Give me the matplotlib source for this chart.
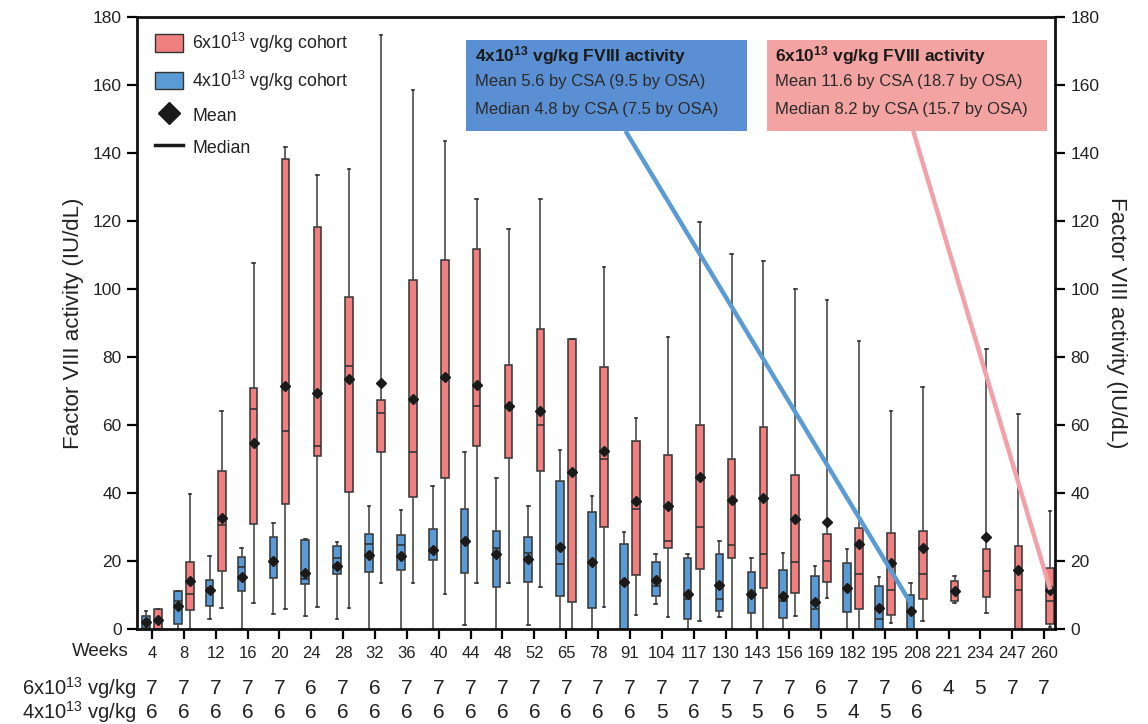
import matplotlib
matplotlib.use("Agg")
import matplotlib.pyplot as plt
from matplotlib.patches import Patch, Rectangle
from matplotlib.lines import Line2D
import matplotlib.transforms as mtransforms

plt.rcParams['font.family'] = ['Liberation Sans', 'DejaVu Sans']
plt.rcParams['mathtext.fontset'] = 'custom'
plt.rcParams['mathtext.rm'] = 'Liberation Sans'
plt.rcParams['mathtext.bf'] = 'Liberation Sans:bold'
plt.rcParams['mathtext.default'] = 'regular'

weeks = [4, 8, 12, 16, 20, 24, 28, 32, 36, 40, 44, 48, 52, 65, 78, 91, 104,
         117, 130, 143, 156, 169, 182, 195, 208, 221, 234, 247, 260]
n_6e13 = [7, 7, 7, 7, 7, 6, 7, 6, 7, 7, 7, 7, 7, 7, 7, 7, 7, 7, 7, 7, 7, 6,
          7, 7, 6, 4, 5, 7, 7]
n_4e13 = [6, 6, 6, 6, 6, 6, 6, 6, 6, 6, 6, 6, 6, 6, 6, 6, 5, 6, 5, 5, 6, 5,
          4, 5, 6]

# 6x10^13 cohort: whisker low, Q1, median, Q3, whisker high, mean
hi_low = [0, 0, 6.1, 7.6, 5.9, 6.6, 6.3, 13.4, 13.6, 10.2, 13.5, 13.4, 12.3, 0, 6.4,
          4.2, 3.4, 2.4, 0, 0, 3.7, 9.1, 0, 1.8, 2.5, 7.7, 4.6, 0, 0.5]
hi_q1 = [0, 5.7, 17.0, 30.9, 36.7, 51.0, 40.4, 52.0, 38.9, 44.4, 53.7, 50.3, 46.5, 7.8,
         30.0, 16.0, 23.8, 17.6, 20.9, 12.1, 10.7, 13.7, 5.8, 4.2, 8.9, 8.1, 9.3, 0, 1.5]
hi_med = [2.5, 10.2, 30.7, 64.8, 58.2, 53.7, 77.4, 63.6, 52.0, 73.5, 65.5, 65.0, 60.0,
          46.0, 49.9, 35.3, 25.8, 30.0, 24.6, 22.2, 19.6, 20.0, 16.2, 11.6, 16.2, 11.2,
          17.0, 11.5, 8.1]
hi_q3 = [5.8, 19.6, 46.4, 70.9, 138.1, 118.1, 97.7, 67.4, 102.6, 108.5, 111.8, 77.6,
         88.3, 85.4, 77.0, 55.4, 51.2, 60.0, 50.0, 59.5, 45.4, 27.9, 29.7, 28.2, 28.9,
         14.1, 23.4, 24.5, 18.0]
hi_high = [5.8, 39.7, 64.0, 107.6, 141.7, 133.5, 135.4, 174.7, 158.5, 143.5, 126.6,
           117.6, 126.6, 85.4, 106.4, 62.1, 86.0, 119.6, 110.3, 108.2, 100.1, 96.9,
           84.8, 64.2, 71.1, 15.7, 82.4, 63.1, 34.8]
hi_mean = [2.6, 14.1, 32.6, 54.6, 71.5, 69.5, 73.4, 72.4, 67.6, 74.2, 71.7, 65.6, 64.0,
           46.2, 52.5, 37.6, 36.1, 44.6, 37.9, 38.4, 32.4, 31.4, 24.9, 19.3, 23.9, 11.2,
           27.2, 17.5, 11.6]

# 4x10^13 cohort (weeks 4..208)
lo_low = [0, 0, 2.9, 0, 4.4, 3.8, 2.9, 0, 0, 0, 1.2, 0, 1.2, 0, 0, 0, 7.5, 0, 3.4, 0,
          0, 0, 0, 0, 0]
lo_q1 = [0.3, 1.6, 6.8, 11.1, 15.0, 13.1, 16.2, 16.7, 17.3, 20.4, 16.5, 12.5, 13.7,
         9.6, 6.2, 0, 9.8, 2.8, 5.4, 4.7, 3.2, 0, 5.0, 0, 0]
lo_med = [2.0, 8.1, 12.0, 18.2, 20.5, 14.8, 20.9, 24.9, 24.6, 23.3, 26.0, 23.8, 22.5,
          19.2, 19.5, 13.5, 12.7, 8.7, 8.7, 10.0, 8.3, 5.8, 12.0, 3.0, 4.9]
lo_q3 = [3.7, 11.1, 14.5, 21.2, 27.0, 26.2, 24.3, 27.8, 27.6, 29.3, 35.3, 28.7, 27.2,
         43.6, 34.5, 25.0, 19.6, 20.8, 22.0, 16.7, 17.5, 15.7, 19.3, 12.7, 10.0]
lo_high = [5.4, 11.1, 21.6, 23.7, 31.2, 26.6, 25.7, 36.2, 35.1, 42.2, 52.0, 44.3, 36.2,
           52.6, 39.0, 28.6, 22.1, 22.0, 26.0, 20.8, 22.3, 18.6, 23.5, 15.2, 13.4]
lo_mean = [2.0, 6.8, 11.6, 15.2, 20.1, 16.4, 18.4, 21.8, 21.5, 23.2, 26.0, 22.2, 20.6,
           24.0, 19.7, 13.8, 14.4, 10.4, 13.0, 10.4, 9.7, 7.9, 12.2, 6.1, 5.2]

RED = '#F08080'
BLUE = '#5B9BD5'
EDGE = '#333333'
TXT = '#222222'
OFF = 0.19
W = 0.24


def stats(low, q1, med, q3, high, mean):
    return [dict(whislo=a, q1=b, med=c, q3=d, whishi=e, mean=f, fliers=[])
            for a, b, c, d, e, f in zip(low, q1, med, q3, high, mean)]


fig = plt.figure(figsize=(11.48, 7.24), dpi=100)
ax = fig.add_axes([137 / 1148, 1 - 629 / 724, (1055 - 137) / 1148, (629 - 17) / 724])

common = dict(widths=W, patch_artist=True, showmeans=True, showfliers=False,
              whiskerprops=dict(color='#4a4a4a', lw=1.2),
              capprops=dict(color='#333333', lw=1.2),
              medianprops=dict(color='#2a2a2a', lw=1.1),
              meanprops=dict(marker='D', markerfacecolor='#1a1a1a',
                             markeredgecolor='#1a1a1a', markersize=5.5),
              manage_ticks=False)

pos_hi = [i + OFF for i in range(len(weeks))]
pos_lo = [i - OFF for i in range(len(n_4e13))]

b1 = ax.bxp(stats(lo_low, lo_q1, lo_med, lo_q3, lo_high, lo_mean), positions=pos_lo,
            boxprops=dict(facecolor=BLUE, edgecolor=EDGE, lw=1.1), **common)
b2 = ax.bxp(stats(hi_low, hi_q1, hi_med, hi_q3, hi_high, hi_mean), positions=pos_hi,
            boxprops=dict(facecolor=RED, edgecolor=EDGE, lw=1.1), **common)
for c in b1['caps'] + b2['caps']:
    x = c.get_xdata()
    m = (x[0] + x[1]) / 2
    c.set_xdata([m - 0.04, m + 0.04])

ax.set_xlim(-0.47, 28.34)
ax.set_ylim(0, 180)
ax.set_yticks(range(0, 181, 20))
ax.set_xticks(range(len(weeks)))
ax.set_xticklabels([str(w) for w in weeks], fontsize=12, color=TXT)
ax.tick_params(axis='x', length=7, width=1.6, pad=5)
ax.tick_params(axis='y', length=7, width=1.6, labelsize=12.5, labelcolor=TXT, pad=4)
for s in ax.spines.values():
    s.set_linewidth(2)
    s.set_color('#111111')
ax.set_ylabel('Factor VIII activity (IU/dL)', fontsize=16, color=TXT, labelpad=6)

ax2 = ax.twinx()
ax2.set_ylim(0, 180)
ax2.set_yticks(range(0, 181, 20))
ax2.tick_params(axis='y', length=7, width=1.6, labelsize=12.5, labelcolor=TXT, pad=4)
ax2.set_ylabel('Factor VIII activity (IU/dL)', fontsize=16, color=TXT,
               rotation=270, labelpad=20)
for s in ax2.spines.values():
    s.set_visible(False)

# legend
handles = [Patch(facecolor=RED, edgecolor=EDGE, lw=1.0),
           Patch(facecolor=BLUE, edgecolor=EDGE, lw=1.0),
           Line2D([], [], ls='none', marker='D', color='#1a1a1a', markersize=11),
           Line2D([], [], color='#1a1a1a', lw=2.5)]
labels = ['6x10$^{13}$ vg/kg cohort', '4x10$^{13}$ vg/kg cohort', 'Mean', 'Median']
ax.legend(handles, labels, loc='upper left', bbox_to_anchor=(0.002, 1.003),
          frameon=False, fontsize=12.8, handlelength=1.6, handleheight=1.15,
          labelspacing=0.74, handletextpad=0.5, labelcolor=TXT)

# annotation boxes
BOX_BLUE = '#5A90D3'
BOX_PINK = '#F4A3A3'
ax.add_patch(Rectangle((9.87, 146.5), 18.68 - 9.87, 173.3 - 146.5, facecolor=BOX_BLUE,
                       edgecolor='none', zorder=5))
ax.add_patch(Rectangle((19.31, 146.5), 28.09 - 19.31, 173.3 - 146.5, facecolor=BOX_PINK,
                       edgecolor='none', zorder=5))
ax.text(10.15, 168.8, '4x10$^{13}$ vg/kg FVIII activity', fontsize=12.5,
        fontweight='bold', color='#1a1a1a', va='center', zorder=6)
ax.text(10.15, 161.0, 'Mean 5.6 by CSA (9.5 by OSA)', fontsize=12, color='#2a2a2a',
        va='center', zorder=6)
ax.text(10.15, 152.8, 'Median 4.8 by CSA (7.5 by OSA)', fontsize=12, color='#2a2a2a',
        va='center', zorder=6)
ax.text(19.55, 168.8, '6x10$^{13}$ vg/kg FVIII activity', fontsize=12.5,
        fontweight='bold', color='#1a1a1a', va='center', zorder=6)
ax.text(19.55, 161.0, 'Mean 11.6 by CSA (18.7 by OSA)', fontsize=12, color='#2a2a2a',
        va='center', zorder=6)
ax.text(19.55, 152.8, 'Median 8.2 by CSA (15.7 by OSA)', fontsize=12, color='#2a2a2a',
        va='center', zorder=6)

# connector lines
ib = len(n_4e13) - 1
ax.plot([14.86, pos_lo[ib]], [146.5, (lo_mean[ib] + lo_q3[ib]) / 2], color='#5B9BD5',
        lw=3.2, zorder=4, solid_capstyle='butt')
ir = len(weeks) - 1
ax.plot([23.89, pos_hi[ir]], [146.5, hi_mean[ir]], color='#F4A0A8', lw=3.2, zorder=4,
        solid_capstyle='butt')

# bottom rows
trans = mtransforms.blended_transform_factory(ax.transData, fig.transFigure)
y_w = 1 - 652 / 724
y_6 = 1 - 688 / 724
y_4 = 1 - 712 / 724
fig.text(129 / 1148, y_w, 'Weeks', fontsize=13.5, ha='right', va='center', color=TXT)
fig.text(22 / 1148, y_6, '6x10$^{13}$ vg/kg', fontsize=14.5, ha='left', va='center',
         color=TXT)
fig.text(22 / 1148, y_4, '4x10$^{13}$ vg/kg', fontsize=14.5, ha='left', va='center',
         color=TXT)
for i, n in enumerate(n_6e13):
    ax.text(i, y_6, str(n), transform=trans, fontsize=15, ha='center', va='center',
            color=TXT, clip_on=False)
for i, n in enumerate(n_4e13):
    ax.text(i, y_4, str(n), transform=trans, fontsize=15, ha='center', va='center',
            color=TXT, clip_on=False)

fig.savefig('out.png', dpi=100)
